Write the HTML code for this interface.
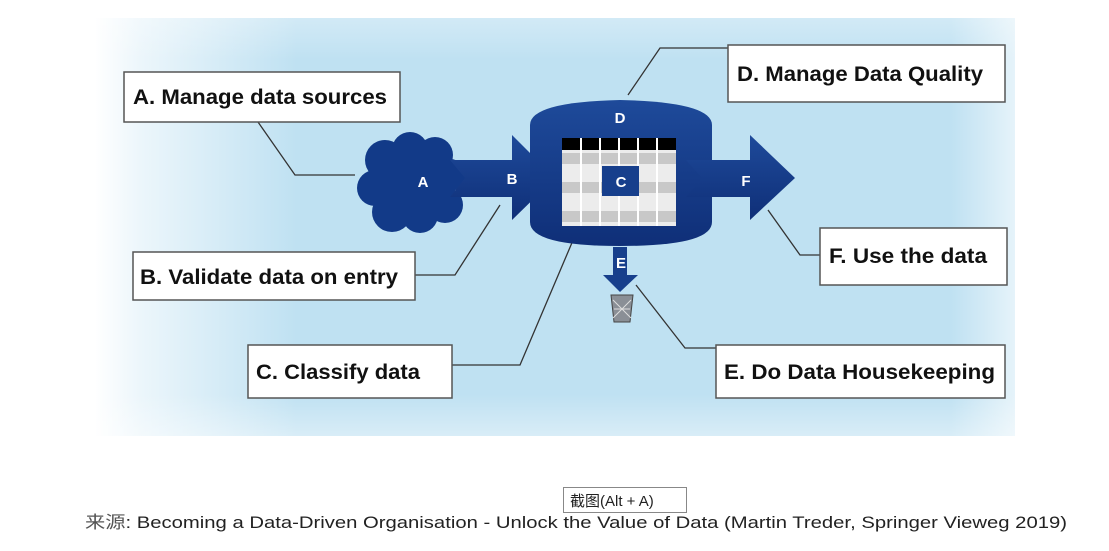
<!DOCTYPE html>
<html><head><meta charset="utf-8"><style>
html,body{margin:0;padding:0;background:#fff;width:1109px;height:551px;overflow:hidden}
svg{display:block}
.lbl{font-family:"Liberation Sans",sans-serif;font-weight:bold;font-size:21px;fill:#111}
.w{font-family:"Liberation Sans",sans-serif;font-weight:bold;font-size:15px;fill:#fff}
.box{fill:#fff;stroke:#555;stroke-width:1.5}
.ln{fill:none;stroke:#333;stroke-width:1.3}
</style></head><body>
<svg width="1109" height="551" viewBox="0 0 1109 551">
<defs>
<linearGradient id="fadeL" x1="0" x2="1" y1="0" y2="0">
<stop offset="0" stop-color="#fff" stop-opacity="1"/>
<stop offset="0.05" stop-color="#fff" stop-opacity="0.7"/>
<stop offset="0.22" stop-color="#fff" stop-opacity="0"/>
<stop offset="0.93" stop-color="#fff" stop-opacity="0"/>
<stop offset="1" stop-color="#fff" stop-opacity="0.6"/>
</linearGradient>
<linearGradient id="fadeV" x1="0" x2="0" y1="0" y2="1">
<stop offset="0" stop-color="#fff" stop-opacity="0.3"/>
<stop offset="0.1" stop-color="#fff" stop-opacity="0"/>
<stop offset="0.9" stop-color="#fff" stop-opacity="0"/>
<stop offset="1" stop-color="#fff" stop-opacity="0.4"/>
</linearGradient>
<linearGradient id="blu" x1="0" x2="0" y1="0" y2="1">
<stop offset="0" stop-color="#1e4a9a"/><stop offset="1" stop-color="#0f2f78"/>
</linearGradient>
</defs>
<rect x="95" y="18" width="920" height="418" fill="#bfe1f2"/>
<rect x="95" y="18" width="920" height="418" fill="url(#fadeL)"/>
<rect x="95" y="18" width="920" height="418" fill="url(#fadeV)"/>

<!-- connectors -->
<polyline class="ln" points="258,122 295,175 355,175"/>
<polyline class="ln" points="415,275 455,275 500,205"/>
<polyline class="ln" points="452,365 520,365 588,205"/>
<polyline class="ln" points="728,48 660,48 628,95"/>
<polyline class="ln" points="716,348 685,348 636,285"/>
<polyline class="ln" points="820,255 800,255 768,210"/>

<!-- cloud -->
<g fill="#123a88">
<circle cx="385" cy="160" r="20"/><circle cx="410" cy="150" r="18"/><circle cx="435" cy="155" r="18"/>
<circle cx="450" cy="175" r="16"/><circle cx="445" cy="205" r="18"/><circle cx="420" cy="215" r="18"/>
<circle cx="392" cy="212" r="20"/><circle cx="375" cy="188" r="18"/><rect x="380" y="160" width="65" height="50"/>
</g>
<!-- arrow B -->
<polygon points="450,160 512,160 512,135 555,178 512,220 512,197 450,197 465,178" fill="url(#blu)"/>
<!-- cylinder -->
<path d="M530,125 Q530,102 620,100 Q712,102 712,125 L712,222 Q712,246 620,246 Q530,246 530,222 Z" fill="url(#blu)"/>
<!-- table -->
<rect x="562" y="138" width="114" height="88" fill="#ececec"/>
<rect x="562" y="138" width="114" height="12" fill="#000"/>
<g fill="#c8c8c8"><rect x="562" y="153" width="114" height="11"/><rect x="562" y="182" width="114" height="11"/><rect x="562" y="211" width="114" height="11"/></g>
<g stroke="#fff" stroke-width="2"><line x1="581" y1="138" x2="581" y2="226"/><line x1="600" y1="138" x2="600" y2="226"/><line x1="619" y1="138" x2="619" y2="226"/><line x1="638" y1="138" x2="638" y2="226"/><line x1="657" y1="138" x2="657" y2="226"/></g>
<rect x="602" y="166" width="37" height="30" fill="#173f8c"/>
<!-- arrow F -->
<polygon points="686,160 750,160 750,135 795,178 750,220 750,197 686,197 702,178" fill="url(#blu)"/>
<!-- arrow E -->
<polygon points="613,247 627,247 627,275 638,275 620,292 603,275 613,275" fill="#173f8c"/>
<!-- trash -->
<path d="M611,295 L633,295 L630,322 L614,322 Z" fill="#8a8f96" stroke="#444"/>
<path d="M613,300 L631,318 M631,300 L613,318 M614,309 L630,309" stroke="#ddd" stroke-width="1"/>

<text class="w" x="423" y="187" text-anchor="middle">A</text>
<text class="w" x="512" y="184" text-anchor="middle">B</text>
<text class="w" x="620" y="123" text-anchor="middle">D</text>
<text class="w" x="621" y="187" text-anchor="middle">C</text>
<text class="w" x="746" y="186" text-anchor="middle">F</text>
<text class="w" x="621" y="268" text-anchor="middle" font-size="13">E</text>

<!-- boxes -->
<rect class="box" x="124" y="72" width="276" height="50"/>
<text class="lbl" x="133" y="104" textLength="254" lengthAdjust="spacingAndGlyphs">A. Manage data sources</text>
<rect class="box" x="728" y="45" width="277" height="57"/>
<text class="lbl" x="737" y="81" textLength="246" lengthAdjust="spacingAndGlyphs">D. Manage Data Quality</text>
<rect class="box" x="133" y="252" width="282" height="48"/>
<text class="lbl" x="140" y="284" textLength="258" lengthAdjust="spacingAndGlyphs">B. Validate data on entry</text>
<rect class="box" x="820" y="228" width="187" height="57"/>
<text class="lbl" x="829" y="263" textLength="158" lengthAdjust="spacingAndGlyphs">F. Use the data</text>
<rect class="box" x="248" y="345" width="204" height="53"/>
<text class="lbl" x="256" y="379" textLength="164" lengthAdjust="spacingAndGlyphs">C. Classify data</text>
<rect class="box" x="716" y="345" width="289" height="53"/>
<text class="lbl" x="724" y="379" textLength="271" lengthAdjust="spacingAndGlyphs">E. Do Data Housekeeping</text>

<!-- caption -->
<text x="85" y="528" font-family="'Liberation Sans','Noto Sans CJK SC',sans-serif" font-size="17" fill="#222" textLength="982" lengthAdjust="spacingAndGlyphs"><tspan fill="#555">来源</tspan>: Becoming a Data-Driven Organisation - Unlock the Value of Data (Martin Treder, Springer Vieweg 2019)</text>
<rect x="563.5" y="487.5" width="123" height="25" fill="#fff" stroke="#888"/>
<text x="570" y="506" font-family="'Liberation Sans','Noto Sans CJK SC',sans-serif" font-size="15" fill="#222">截图(Alt + A)</text>
</svg>
</body></html>
